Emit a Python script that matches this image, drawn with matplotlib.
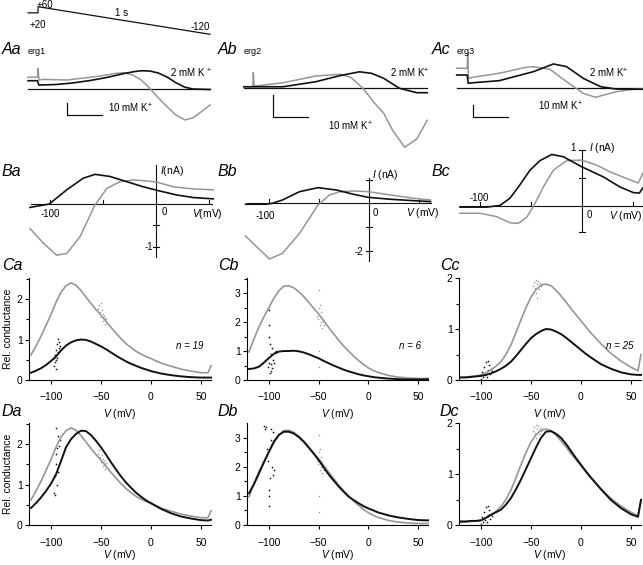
import matplotlib
matplotlib.use("Agg")
import matplotlib.pyplot as plt

plt.rcParams['font.family'] = ['Liberation Sans', 'DejaVu Sans']
plt.rcParams['mathtext.fontset'] = 'custom'
plt.rcParams['mathtext.rm'] = 'Liberation Sans'
plt.rcParams['mathtext.it'] = 'Liberation Sans:italic'
plt.rcParams['mathtext.default'] = 'regular'

GRAY = '#969696'
BLACK = '#111111'

# ---- ramp protocol (time in s, mV) ----
prot_t = [-0.058, 0.0, 0.0, 1.0]
prot_v = [20, 20, 60, -120]

# ---- A: raw traces (time in s, current in scale-bar units) ----
aa_black_t = [-0.058, -0.003, 0.005, 0.1, 0.2, 0.3, 0.4, 0.5, 0.56, 0.6, 0.65, 0.7, 0.75, 0.8, 0.85, 0.9, 1.0]
aa_black_i = [0.69, 0.69, 0.33, 0.37, 0.5, 0.7, 0.96, 1.29, 1.45, 1.52, 1.5, 1.33, 1.0, 0.54, 0.17, 0.0, -0.04]
aa_gray_t = [-0.058, -0.002, 0.0, 0.006, 0.03, 0.17, 0.36, 0.45, 0.5, 0.55, 0.6, 0.65, 0.7, 0.75, 0.8, 0.855, 0.9, 0.94, 1.0]
aa_gray_i = [0.98, 0.98, 1.72, 0.75, 0.8, 0.75, 1.08, 1.3, 1.36, 1.17, 0.75, 0.06, -0.75, -1.47, -2.15, -2.58, -2.4, -2.0, -1.33]

ab_black_t = [-0.056, 0.0, 0.17, 0.36, 0.5, 0.61, 0.68, 0.75, 0.84, 0.94, 1.0]
ab_black_i = [0.07, 0.07, 0.07, 0.3, 0.58, 0.75, 0.68, 0.45, 0.0, -0.2, -0.2]
ab_gray_t = [-0.056, -0.002, 0.0, 0.005, 0.17, 0.36, 0.5, 0.56, 0.63, 0.7, 0.75, 0.8, 0.87, 0.94, 1.0]
ab_gray_i = [0.07, 0.07, 0.71, 0.1, 0.25, 0.56, 0.64, 0.5, 0.0, -0.7, -1.14, -1.9, -2.68, -2.3, -1.45]

ac_black_t = [-0.063, -0.003, 0.003, 0.03, 0.18, 0.375, 0.49, 0.565, 0.66, 0.76, 0.85, 1.0]
ac_black_i = [1.08, 1.08, 0.41, 0.45, 0.62, 1.35, 1.98, 1.76, 0.81, 0.13, -0.06, -0.08]
ac_gray_t = [-0.063, -0.003, 0.0, 0.005, 0.03, 0.18, 0.33, 0.375, 0.47, 0.565, 0.66, 0.73, 0.85, 0.95, 1.0]
ac_gray_i = [1.63, 1.63, 2.85, 0.81, 0.9, 1.22, 1.7, 1.76, 1.54, 0.54, -0.41, -0.73, -0.27, -0.08, -0.05]

# ---- B: I-V curves (mV, nA) ----
ba_black_v = [-118.9, -100.7, -84.2, -68.6, -57.5, -43.4, -27.7, -12.0, 2.2, 19.5, 35.2, 54.0]
ba_black_i = [-0.08, 0.0, 0.33, 0.60, 0.69, 0.64, 0.52, 0.40, 0.31, 0.21, 0.15, 0.12]
ba_gray_v = [-118.9, -106.3, -93.7, -84.2, -71.7, -57.5, -46.5, -34.0, -21.4, -5.7, 2.2, 16.3, 35.2, 54.0]
ba_gray_i = [-0.57, -0.91, -1.19, -1.15, -0.76, -0.02, 0.36, 0.52, 0.56, 0.53, 0.50, 0.40, 0.35, 0.33]

bb_black_v = [-122.9, -102.8, -96.0, -86.0, -69.0, -50.5, -32.0, -15.0, 0.0, 22.0, 45.5, 62.0]
bb_black_i = [-0.04, -0.04, 0.0, 0.14, 0.49, 0.66, 0.56, 0.38, 0.25, 0.17, 0.11, 0.07]
bb_gray_v = [-123.0, -112.0, -99.0, -86.0, -69.0, -50.5, -39.0, -28.8, -15.0, 0.0, 22.0, 45.5, 62.0]
bb_gray_i = [-1.38, -1.83, -2.35, -2.11, -1.27, -0.07, 0.35, 0.49, 0.52, 0.49, 0.35, 0.21, 0.14]

bc_black_v = [-119.3, -93.1, -80.1, -70.3, -60.5, -50.7, -40.9, -29.4, -18.0, 0.0, 21.2, 37.5, 50.6, 56.5, 59.8]
bc_black_i = [-0.02, -0.02, 0.01, 0.14, 0.38, 0.64, 0.81, 0.92, 0.88, 0.70, 0.52, 0.34, 0.24, 0.23, 0.32]
bc_gray_v = [-119.3, -99.7, -83.3, -70.3, -62.1, -53.9, -47.4, -37.6, -27.8, -14.7, 0.0, 14.7, 27.7, 44.1, 55.5, 59.8]
bc_gray_i = [-0.13, -0.13, -0.19, -0.30, -0.31, -0.20, -0.01, 0.34, 0.64, 0.81, 0.82, 0.73, 0.61, 0.49, 0.41, 0.58]

# ---- C / D: relative conductance vs V ----
v_grid = [-120, -115, -110, -105, -100, -95, -90, -85, -80, -75, -70, -65, -60, -55, -50, -45, -40,
          -35, -30, -25, -20, -15, -10, -5, 0, 5, 10, 20, 30, 40, 50, 57, 60]

ca_gray = [0.62, 0.84, 1.08, 1.35, 1.62, 1.92, 2.17, 2.33, 2.40, 2.34, 2.21, 2.05, 1.89, 1.74, 1.60, 1.45, 1.30,
           1.16, 1.02, 0.90, 0.80, 0.71, 0.64, 0.58, 0.53, 0.47, 0.42, 0.34, 0.27, 0.22, 0.18, 0.18, 0.35]
ca_black = [0.18, 0.23, 0.29, 0.37, 0.47, 0.58, 0.73, 0.85, 0.93, 0.98, 1.00, 0.99, 0.95, 0.89, 0.83, 0.76, 0.68,
            0.60, 0.53, 0.46, 0.40, 0.35, 0.30, 0.26, 0.22, 0.19, 0.16, 0.12, 0.09, 0.07, 0.06, 0.06, 0.06]
da_black = [0.42, 0.54, 0.68, 0.84, 1.02, 1.25, 1.58, 1.92, 2.12, 2.25, 2.33, 2.32, 2.22, 2.08, 1.92, 1.74, 1.55,
            1.37, 1.20, 1.05, 0.92, 0.80, 0.70, 0.61, 0.54, 0.47, 0.40, 0.29, 0.21, 0.16, 0.12, 0.11, 0.13]

cb_gray = [0.97, 1.42, 1.83, 2.18, 2.50, 2.82, 3.08, 3.24, 3.25, 3.18, 3.05, 2.88, 2.68, 2.48, 2.28, 2.05, 1.82,
           1.60, 1.38, 1.18, 1.00, 0.83, 0.68, 0.54, 0.42, 0.33, 0.26, 0.16, 0.10, 0.07, 0.05, 0.05, 0.06]
cb_black = [0.38, 0.40, 0.46, 0.60, 0.76, 0.90, 0.98, 1.00, 1.00, 1.01, 0.99, 0.95, 0.89, 0.82, 0.75, 0.66, 0.58,
            0.50, 0.43, 0.36, 0.30, 0.25, 0.20, 0.16, 0.13, 0.10, 0.08, 0.05, 0.03, 0.02, 0.02, 0.02, 0.02]
db_black = [1.09, 1.40, 1.77, 2.15, 2.51, 2.86, 3.09, 3.20, 3.20, 3.14, 3.02, 2.86, 2.66, 2.45, 2.23, 1.98, 1.74,
            1.53, 1.33, 1.15, 0.98, 0.86, 0.75, 0.65, 0.57, 0.50, 0.43, 0.33, 0.26, 0.21, 0.17, 0.16, 0.16]

cc_gray = [0.05, 0.06, 0.07, 0.08, 0.10, 0.14, 0.20, 0.27, 0.36, 0.50, 0.69, 0.93, 1.18, 1.42, 1.63, 1.77, 1.86,
           1.88, 1.85, 1.76, 1.65, 1.53, 1.40, 1.28, 1.16, 1.04, 0.92, 0.71, 0.52, 0.37, 0.25, 0.18, 0.50]
cc_black = [0.05, 0.05, 0.06, 0.07, 0.08, 0.10, 0.13, 0.17, 0.22, 0.28, 0.36, 0.47, 0.59, 0.71, 0.82, 0.90, 0.96,
            1.00, 0.99, 0.95, 0.90, 0.83, 0.75, 0.67, 0.59, 0.51, 0.44, 0.31, 0.22, 0.15, 0.11, 0.10, 0.10]
dc_black = [0.07, 0.07, 0.08, 0.08, 0.09, 0.14, 0.20, 0.25, 0.30, 0.40, 0.53, 0.70, 0.89, 1.10, 1.31, 1.52, 1.71,
            1.83, 1.84, 1.79, 1.71, 1.59, 1.45, 1.31, 1.18, 1.05, 0.93, 0.70, 0.49, 0.33, 0.21, 0.16, 0.49]

# scattered points around the fitted curves
ca_black_pts_v = [-97, -96, -96, -95, -95, -94, -94, -93, -93, -92, -92, -91, -97, -95]
ca_black_pts_g = [0.35, 0.45, 0.62, 0.28, 0.75, 0.55, 0.9, 0.68, 1.02, 0.8, 0.95, 0.85, 0.55, 0.5]
ca_gray_pts_v = [-53, -52, -51, -50, -50, -49, -48, -48, -47, -46, -46, -45]
ca_gray_pts_g = [1.75, 1.85, 1.68, 1.9, 1.55, 1.72, 1.45, 1.62, 1.58, 1.5, 1.38, 1.52]
cb_black_pts_v = [-101, -100, -100, -100, -99, -99, -98, -98, -97, -97, -96, -95, -94, -93, -100, -98]
cb_black_pts_g = [0.45, 2.4, 1.9, 1.5, 1.25, 0.25, 0.55, 0.9, 0.4, 1.1, 0.7, 0.6, 0.95, 1.0, 0.6, 0.3]
cb_gray_pts_v = [-52, -51, -50, -50, -50, -49, -48, -48, -47, -46, -45, -50, -49, -47]
cb_gray_pts_g = [2.2, 2.1, 3.1, 2.5, 0.45, 1.9, 2.35, 2.0, 2.15, 2.05, 1.9, 1.0, 2.6, 1.8]
cc_black_pts_v = [-100, -99, -98, -97, -96, -95, -94, -93, -92, -91, -90, -89, -95, -93]
cc_black_pts_g = [0.02, 0.15, 0.05, 0.25, 0.1, 0.35, 0.05, 0.2, 0.3, 0.12, 0.22, 0.18, 0.0, 0.38]
cc_gray_pts_v = [-48, -47, -46, -45, -45, -44, -43, -42, -41, -40, -39, -44]
cc_gray_pts_g = [1.85, 1.92, 1.8, 1.96, 1.7, 1.88, 1.95, 1.78, 1.9, 1.84, 1.88, 1.6]
da_black_pts_v = [-97, -96, -96, -95, -95, -94, -94, -93, -93, -92, -91, -95]
da_black_pts_g = [0.8, 1.2, 0.75, 2.4, 1.5, 1.0, 1.9, 2.2, 1.3, 1.95, 2.1, 1.75]
db_black_pts_v = [-105, -104, -103, -102, -101, -100, -100, -99, -98, -97, -96, -95, -100, -98, -96]
db_black_pts_g = [3.4, 3.3, 3.35, 2.6, 2.2, 0.65, 1.2, 1.6, 3.3, 2.0, 1.7, 1.9, 1.0, 2.9, 3.2]

W, H = 643, 565
fig = plt.figure(figsize=(W / 100, H / 100), dpi=100)


def box(l, t, r, b):
    return fig.add_axes([l / W, 1 - b / H, (r - l) / W, (b - t) / H])


def px_panel(l, t, r, b, x0, sx, y0, sy):
    # axes where data 0 sits at pixel (x0, y0), sx / sy pixels per unit
    ax = box(l, t, r, b)
    ax.set_xlim((l - x0) / sx, (r - x0) / sx)
    ax.set_ylim((y0 - b) / sy, (y0 - t) / sy)
    ax.axis('off')
    return ax


def ftext(x, y, s, size=7, ha='left', va='center', **kw):
    fig.text(x / W, 1 - y / H, s, fontsize=size, ha=ha, va=va, **kw)


def label(x, y, s):
    ftext(x, y, s, size=11.5, style='italic')


# ---- protocol ----
ax = px_panel(26, 0, 212, 40, 38, 172, 15.9, 0.1533)
ax.plot(prot_t, prot_v, color=BLACK, lw=0.9)
ftext(37, 5, '+60')
ftext(30, 25, '+20')
ftext(115, 13, '1 s')
ftext(191, 27, '-120')

# ---- A row ----
a_panels = [
    (26, 55, 212, 128, 38, 172, 89, 12, aa_black_t, aa_black_i, aa_gray_t, aa_gray_i, (0.17, -2.17)),
    (243, 55, 430, 152, 253.3, 174, 88.3, 22, ab_black_t, ab_black_i, ab_gray_t, ab_gray_i, (0.113, -1.3)),
    (455, 45, 643, 125, 467.7, 175, 88.3, 12.3, ac_black_t, ac_black_i, ac_gray_t, ac_gray_i, (0.03, -2.36)),
]
for l, t, r, b, x0, sx, y0, sy, bt, bi, gt, gi, sb in a_panels:
    ax = px_panel(l, t, r, b, x0, sx, y0, sy)
    ax.plot([bt[0], 1.0], [0, 0], color=BLACK, lw=0.9)
    ax.plot(gt, gi, color=GRAY, lw=1.1)
    ax.plot(bt, bi, color=BLACK, lw=1.2)
    ax.plot([sb[0], sb[0], sb[0] + 0.2], [sb[1] + 1, sb[1], sb[1]], color=BLACK, lw=0.9)

label(2, 50, 'Aa')
ftext(28, 51, 'erg1', size=6.5)
label(218, 50, 'Ab')
ftext(244, 52, 'erg2', size=6.5)
label(432, 50, 'Ac')
ftext(457, 51, 'erg3', size=6.5)
ftext(170, 73, '2 mM K $^{+}$')
ftext(108, 108, '10 mM K$^{+}$')
ftext(390, 73, '2 mM K$^{+}$')
ftext(328, 126, '10 mM K$^{+}$')
ftext(589, 73, '2 mM K$^{+}$')
ftext(538, 106, '10 mM K$^{+}$')

# ---- B row ----
b_panels = [
    (28, 140, 215, 262, 156, 1.06, 204, 43, ba_black_v, ba_black_i, ba_gray_v, ba_gray_i,
     (-118, 53), (0.91, -1.23), [-100, -50, 50], [-0.5, -1]),
    (243, 165, 433, 265, 368.5, 1.0, 203.3, 23.7, bb_black_v, bb_black_i, bb_gray_v, bb_gray_i,
     (-122, 62), (1.06, -2.45), [-100, -50, 50], [1, -1, -2]),
    (458, 140, 643, 236, 581.7, 1.02, 206, 56, bc_black_v, bc_black_i, bc_gray_v, bc_gray_i,
     (-119.3, 60), (1.0, -0.46), [-100, -50, 50], [1, 0.5, -0.46]),
]
for l, t, r, b, x0, sx, y0, sy, bv, bi, gv, gi, vr, ir, vt, it in b_panels:
    ax = px_panel(l, t, r, b, x0, sx, y0, sy)
    ax.plot(vr, [0, 0], color=BLACK, lw=0.8)
    ax.plot([0, 0], ir, color=BLACK, lw=0.8)
    for v in vt:
        ax.plot([v, v], [0, 4 / sy], color=BLACK, lw=0.8)
    for i in it:
        ax.plot([-3 / sx, 3 / sx], [i, i], color=BLACK, lw=0.8)
    ax.plot(gv, gi, color=GRAY, lw=1.1)
    ax.plot(bv, bi, color=BLACK, lw=1.2)

label(2, 172, 'Ba')
ftext(50, 214, '-100', ha='center')
ftext(162, 212, '0')
ftext(192, 214, '$\\mathit{V}$(mV)', size=7.5)
ftext(160, 171, '$\\mathit{I}$(nA)', size=7.5)
ftext(153, 247, '-1', ha='right')

label(218, 172, 'Bb')
ftext(265, 216, '-100', ha='center')
ftext(373, 213, '0')
ftext(406, 213, '$\\mathit{V}$ (mV)', size=7.5)
ftext(372, 175, '$\\mathit{I}$ (nA)', size=7.5)
ftext(363, 252, '-2', ha='right')

label(432, 172, 'Bc')
ftext(479, 198, '-100', ha='center')
ftext(587, 215, '0')
ftext(609, 216, '$\\mathit{V}$ (mV)', size=7.5)
ftext(589, 148, '$\\mathit{I}$ (nA)', size=7.5)
ftext(576, 148, '1', ha='right')

# ---- C and D rows ----
cd_panels = [
    ('Ca', 29, 278, 211, 380, 2.52, [0, 1, 2], ca_gray, ca_black, ca_gray_pts_v, ca_gray_pts_g,
     ca_black_pts_v, ca_black_pts_g, 'n = 19', True),
    ('Cb', 247, 278, 428, 380, 3.52, [0, 1, 2, 3], cb_gray, cb_black, cb_gray_pts_v, cb_gray_pts_g,
     cb_black_pts_v, cb_black_pts_g, 'n = 6', False),
    ('Cc', 459, 278, 641, 380, 2.0, [0, 1, 2], cc_gray, cc_black, cc_gray_pts_v, cc_gray_pts_g,
     cc_black_pts_v, cc_black_pts_g, 'n = 25', False),
    ('Da', 29, 423, 211, 525, 2.52, [0, 1, 2], ca_gray, da_black, ca_gray_pts_v, ca_gray_pts_g,
     da_black_pts_v, da_black_pts_g, None, True),
    ('Db', 247, 423, 428, 525, 3.5, [0, 1, 2, 3], cb_gray, db_black, cb_gray_pts_v, cb_gray_pts_g,
     db_black_pts_v, db_black_pts_g, None, False),
    ('Dc', 459, 423, 641, 525, 2.0, [0, 1, 2], cc_gray, dc_black, cc_gray_pts_v, cc_gray_pts_g,
     cc_black_pts_v, cc_black_pts_g, None, False),
]
label_x = {'a': 2, 'b': 218, 'c': 440}
for name, l, t, r, b, ytop, yt, gray, black, gpv, gpg, bpv, bpg, ntxt, ylab in cd_panels:
    ax = box(l, t, r, b)
    ax.plot(v_grid, gray, color=GRAY, lw=1.2, clip_on=False)
    ax.scatter(gpv, gpg, s=1.2, color=GRAY, lw=0)
    ax.plot(v_grid, black, color=BLACK, lw=1.4, clip_on=False)
    ax.scatter(bpv, bpg, s=1.5, color=BLACK, lw=0)
    ax.set_xlim(-122, 60)
    ax.set_ylim(0, ytop)
    ax.set_xticks([-100, -50, 0, 50])
    ax.set_yticks(yt)
    ax.set_yticks([y + 0.5 for y in yt if y + 0.5 < ytop], minor=True)
    for s in ['top', 'right']:
        ax.spines[s].set_visible(False)
    for s in ['left', 'bottom']:
        ax.spines[s].set_linewidth(0.8)
    ax.tick_params(direction='out', length=3, width=0.8, labelsize=7.5)
    ax.tick_params(axis='x', pad=6)
    ax.tick_params(axis='y', pad=1.5)
    ax.tick_params(which='minor', direction='out', length=2, width=0.8)
    ax.set_xlabel('$\\mathit{V}$ (mV)', fontsize=7.5, labelpad=3 if name[0] == 'C' else 0.5)
    if ylab:
        ax.set_ylabel('Rel. conductance', fontsize=7.5, labelpad=3)
    if ntxt:
        ax.text(0.96, 0.3, ntxt, transform=ax.transAxes, fontsize=7, style='italic', ha='right')
    label(label_x[name[1]], t - 12, name)

fig.savefig('out.png', dpi=100)
